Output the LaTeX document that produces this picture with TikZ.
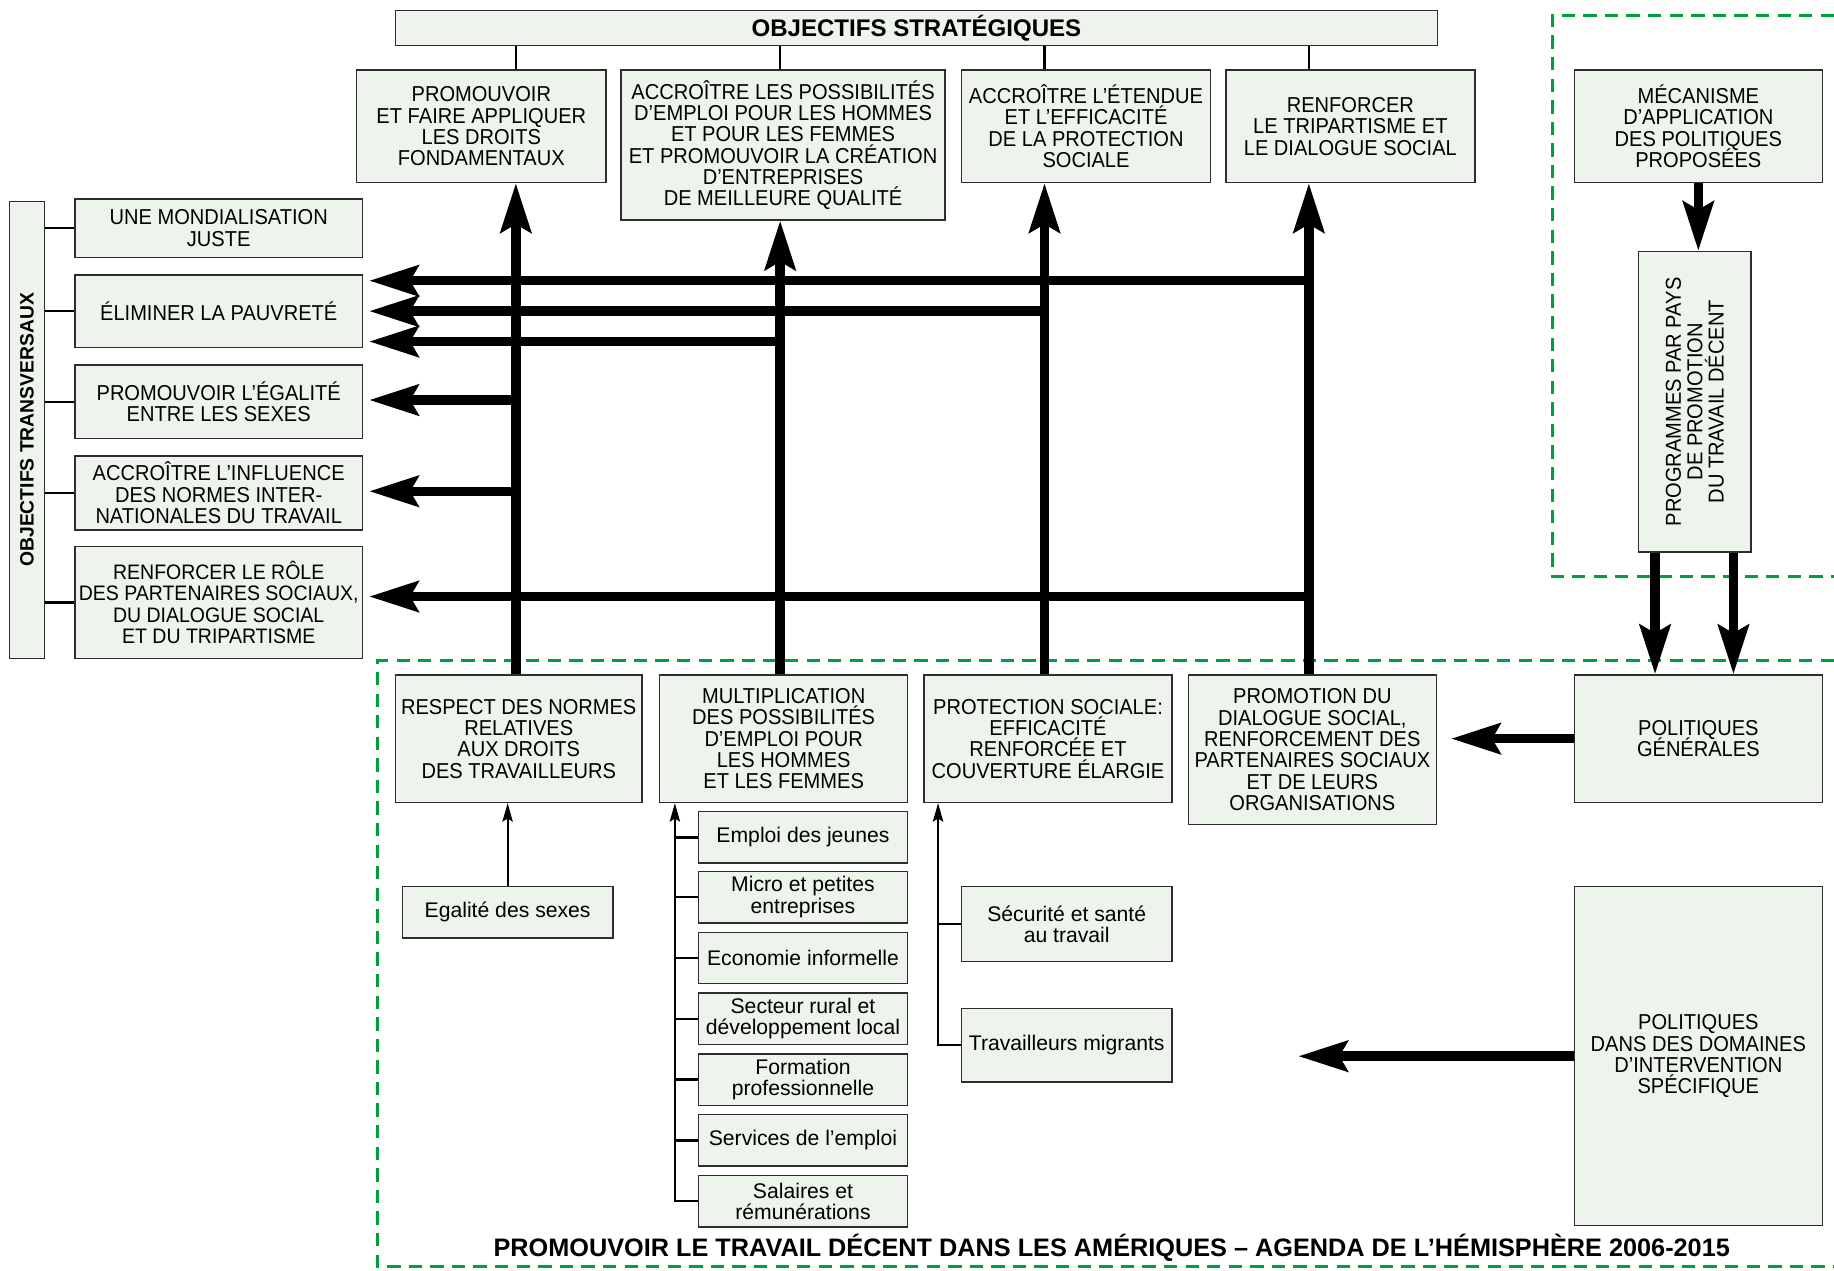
\documentclass[tikz,border=0pt]{standalone}
\usepackage{fontspec}
\setmainfont{Liberation Sans}
\newfontfamily\condfont{Liberation Sans}[FakeStretch=0.93]
\usepackage{tikz}
\usetikzlibrary{arrows.meta}
\usepackage{xcolor}
\definecolor{boxfill}{RGB}{237,244,235}
\definecolor{zonegreen}{RGB}{0,160,60}
\definecolor{edgegray}{RGB}{45,45,45}
\AtBeginDocument{\lineskiplimit=-\maxdimen\relax}

\begin{document}
\begin{tikzpicture}[x=0.02cm, y=-0.02cm,
    box/.style={draw=edgegray, line width=0.7pt, fill=boxfill, align=center, inner sep=1pt,
        font=\condfont\fontsize{10.5}{10.4}\selectfont},
    subbox/.style={box, font=\fontsize{10.3}{10.4}\selectfont},
    big/.style={line width=4.6pt, -{Stealth[length=0.84cm, width=0.52cm, inset=0.14cm]}},
    link/.style={line width=1.1pt},
    linkarrow/.style={link, -{Stealth[length=9pt, width=5pt, inset=1.5pt]}},
    zone/.style={draw=zonegreen, line width=1.5pt, dash pattern=on 6.5pt off 4pt}]
    \useasboundingbox (0,0) rectangle (1568,1086);

    % Dashed zones
    \draw[zone] (1568,13) -- (1327,13) -- (1327,493) -- (1568,493);
    \draw[zone] (1568,565) -- (323,565) -- (323,1083) -- (1568,1083);

    % Strategic objectives
    \node[box, minimum width=17.82cm, minimum height=0.6cm, font=\bfseries\fontsize{11.7}{12}\selectfont] (strat) at (783.5,24) {OBJECTIFS STRATÉGIQUES};
    \node[box, minimum width=4.26cm, minimum height=1.92cm] (s1) at (411.5,108) {PROMOUVOIR\\ET FAIRE APPLIQUER\\LES DROITS\\FONDAMENTAUX};
    \node[box, minimum width=5.54cm, minimum height=2.56cm] (s2) at (669.5,124) {ACCROÎTRE LES POSSIBILITÉS\\D’EMPLOI POUR LES HOMMES\\ET POUR LES FEMMES\\ET PROMOUVOIR LA CRÉATION\\D’ENTREPRISES\\DE MEILLEURE QUALITÉ};
    \node[box, minimum width=4.26cm, minimum height=1.92cm] (s3) at (928.5,108) {ACCROÎTRE L’ÉTENDUE\\ET L’EFFICACITÉ\\DE LA PROTECTION\\SOCIALE};
    \node[box, minimum width=4.26cm, minimum height=1.92cm] (s4) at (1154.5,108) {RENFORCER\\LE TRIPARTISME ET\\LE DIALOGUE SOCIAL};

    % Cross-cutting objectives
    \node[box, rotate=90, minimum width=7.82cm, minimum height=0.6cm, font=\bfseries\fontsize{9.4}{10}\selectfont] (trans) at (23,367.5) {OBJECTIFS TRANSVERSAUX};
    \node[box, minimum width=4.92cm, minimum height=1.0cm] (t1) at (187,195) {UNE MONDIALISATION\\JUSTE};
    \node[box, minimum width=4.92cm, minimum height=1.24cm] (t2) at (187,266) {ÉLIMINER LA PAUVRETÉ};
    \node[box, minimum width=4.92cm, minimum height=1.26cm] (t3) at (187,343.5) {PROMOUVOIR L’ÉGALITÉ\\ENTRE LES SEXES};
    \node[box, minimum width=4.92cm, minimum height=1.26cm] (t4) at (187,421.5) {ACCROÎTRE L’INFLUENCE\\DES NORMES INTER-\\NATIONALES DU TRAVAIL};
    \node[box, minimum width=4.92cm, minimum height=1.92cm, inner sep=0pt, font=\condfont\fontsize{10.2}{10.4}\selectfont] (t5) at (187,515) {RENFORCER LE RÔLE\\DES PARTENAIRES SOCIAUX,\\DU DIALOGUE SOCIAL\\ET DU TRIPARTISME};

    % Outcomes
    \node[box, minimum width=4.22cm, minimum height=2.18cm] (b1) at (443.5,631.5) {RESPECT DES NORMES\\RELATIVES\\AUX DROITS\\DES TRAVAILLEURS};
    \node[box, minimum width=4.24cm, minimum height=2.18cm] (b2) at (670,631.5) {MULTIPLICATION\\DES POSSIBILITÉS\\D’EMPLOI POUR\\LES HOMMES\\ET LES FEMMES};
    \node[box, minimum width=4.24cm, minimum height=2.18cm] (b3) at (896,631.5) {PROTECTION SOCIALE:\\EFFICACITÉ\\RENFORCÉE ET\\COUVERTURE ÉLARGIE};
    \node[box, minimum width=4.24cm, minimum height=2.56cm] (b4) at (1122,641) {PROMOTION DU\\DIALOGUE SOCIAL,\\RENFORCEMENT DES\\PARTENAIRES SOCIAUX\\ET DE LEURS\\ORGANISATIONS};

    % Sub-areas
    \node[subbox, minimum width=3.6cm, minimum height=0.88cm] (egal) at (434,780) {Egalité des sexes};
    \node[subbox, minimum width=3.58cm, minimum height=0.88cm] (jeunes) at (686.5,716) {Emploi des jeunes};
    \node[subbox, minimum width=3.58cm, minimum height=0.88cm] (micro) at (686.5,767) {Micro et petites\\entreprises};
    \node[subbox, minimum width=3.58cm, minimum height=0.88cm] (informel) at (686.5,819) {Economie informelle};
    \node[subbox, minimum width=3.58cm, minimum height=0.88cm] (rural) at (686.5,871) {Secteur rural et\\développement local};
    \node[subbox, minimum width=3.58cm, minimum height=0.88cm] (formation) at (686.5,923) {Formation\\professionnelle};
    \node[subbox, minimum width=3.58cm, minimum height=0.88cm] (services) at (686.5,975) {Services de l’emploi};
    \node[subbox, minimum width=3.58cm, minimum height=0.88cm] (salaires) at (686.5,1027) {Salaires et\\rémunérations};
    \node[subbox, minimum width=3.6cm, minimum height=1.28cm] (secu) at (912,790) {Sécurité et santé\\au travail};
    \node[subbox, minimum width=3.6cm, minimum height=1.26cm] (migr) at (912,893.5) {Travailleurs migrants};

    % Policies
    \node[box, minimum width=4.24cm, minimum height=1.92cm] (meca) at (1452,108) {MÉCANISME\\D’APPLICATION\\DES POLITIQUES\\PROPOSÉES};
    \node[box, rotate=90, minimum width=5.14cm, minimum height=1.92cm] (prog) at (1449,343.5) {PROGRAMMES PAR PAYS\\DE PROMOTION\\DU TRAVAIL DÉCENT};
    \node[box, minimum width=4.24cm, minimum height=2.18cm] (polgen) at (1452,631.5) {POLITIQUES\\GÉNÉRALES};
    \node[box, minimum width=4.24cm, minimum height=5.8cm] (polspec) at (1452,903) {POLITIQUES\\DANS DES DOMAINES\\D’INTERVENTION\\SPÉCIFIQUE};

    \node[font=\bfseries\fontsize{12.3}{14}\selectfont] (agenda) at (950.5,1067) {PROMOUVOIR LE TRAVAIL DÉCENT DANS LES AMÉRIQUES – AGENDA DE L’HÉMISPHÈRE 2006-2015};

    % Columns and levels
    \coordinate (c1) at (441,0);
    \coordinate (c2) at (667,0);
    \coordinate (c3) at (893,0);
    \coordinate (c4) at (1119,0);
    \coordinate (h1) at (0,240);
    \coordinate (h2) at (0,266);
    \coordinate (h3) at (0,292);
    \coordinate (h4) at (0,342);
    \coordinate (h5) at (0,420);
    \coordinate (h6) at (0,510);
    \coordinate (p1) at (1415,0);
    \coordinate (p2) at (1482,0);
    \coordinate (spine2) at (577,0);
    \coordinate (spine3) at (802,0);
    \coordinate (specend) at (1110,0);

    % Thin links
    \draw[link] (strat.south -| c1) -- (s1.north -| c1);
    \draw[link] (strat.south -| c2) -- (s2.north -| c2);
    \draw[link] (strat.south -| c3) -- (s3.north -| c3);
    \draw[link] (strat.south -| c4) -- (s4.north -| c4);
    \foreach \t in {t1,t2,t3,t4,t5}
        \draw[link] (\t.west -| trans.south) -- (\t.west);

    % Outcomes to strategic objectives
    \draw[big] (b1.north -| c1) -- (s1.south -| c1);
    \draw[big] (b2.north -| c2) -- (s2.south -| c2);
    \draw[big] (b3.north -| c3) -- (s3.south -| c3);
    \draw[big] (b4.north -| c4) -- (s4.south -| c4);

    % Towards cross-cutting objectives
    \draw[big, shorten >=0.1cm] (c4 |- h1) -- (t2.east |- h1);
    \draw[big, shorten >=0.1cm] (c3 |- h2) -- (t2.east |- h2);
    \draw[big, shorten >=0.1cm] (c2 |- h3) -- (t2.east |- h3);
    \draw[big, shorten >=0.1cm] (c1 |- h4) -- (t3.east |- h4);
    \draw[big, shorten >=0.1cm] (c1 |- h5) -- (t4.east |- h5);
    \draw[big, shorten >=0.1cm] (c4 |- h6) -- (t5.east |- h6);

    % Sub-area trees
    \draw[linkarrow] (egal.north) -- (egal.north |- b1.south);
    \draw[linkarrow] (salaires.west) -- (salaires.west -| spine2) -- (b2.south -| spine2);
    \foreach \n in {jeunes,micro,informel,rural,formation,services}
        \draw[link] (\n.west -| spine2) -- (\n.west);
    \draw[linkarrow] (migr.west) -- (migr.west -| spine3) -- (b3.south -| spine3);
    \draw[link] (secu.west -| spine3) -- (secu.west);

    % Policy arrows
    \draw[big] (meca.south) -- (meca.south |- prog.east);
    \draw[big] (prog.west -| p1) -- (polgen.north -| p1);
    \draw[big] (prog.west -| p2) -- (polgen.north -| p2);
    \draw[big, shorten >=0.24cm] (polgen.west) -- (b4.east |- polgen.west);
    \draw[big] (polspec.west) -- (polspec.west -| specend);
\end{tikzpicture}
\end{document}
